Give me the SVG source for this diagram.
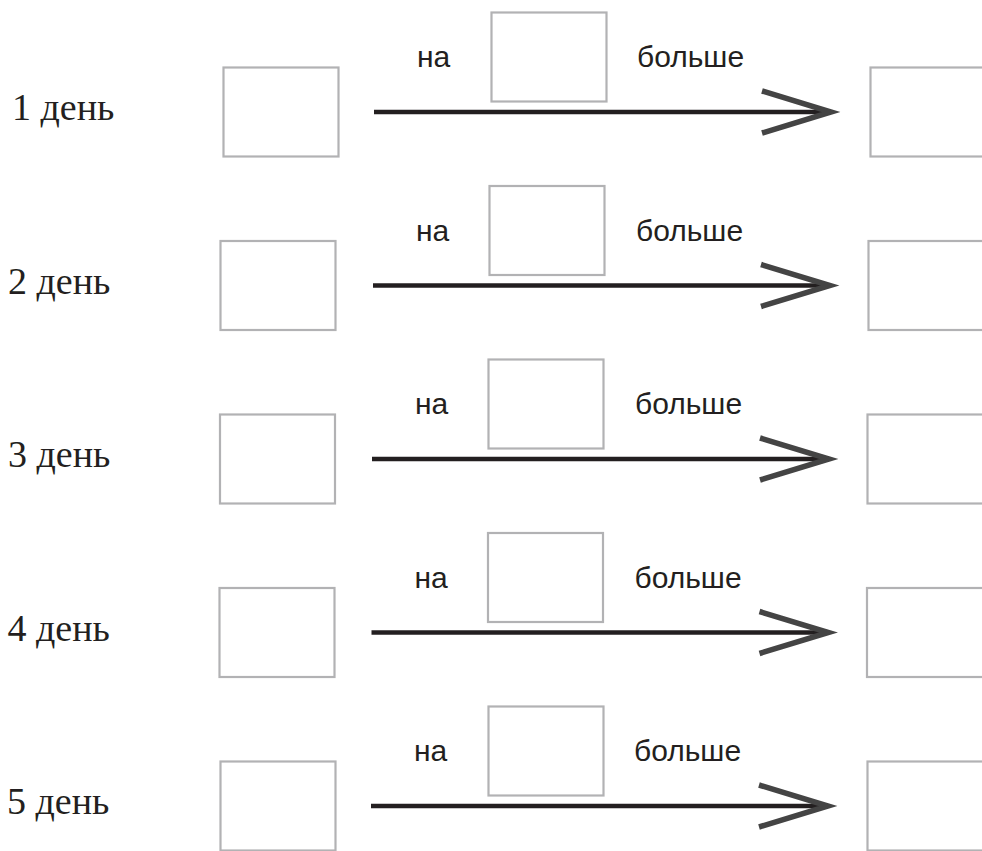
<svg xmlns="http://www.w3.org/2000/svg" width="982" height="851" viewBox="0 0 982 851">
<style>
.box{fill:#fff;stroke:#b2b2b4;stroke-width:2.2}
.day{font-family:"Liberation Serif","Times New Roman",serif;font-size:38px;fill:#231f20}
.lbl{font-family:"Liberation Sans",Arial,sans-serif;font-size:30px;fill:#231f20}
.ln{stroke:#231f20;stroke-width:4.5;fill:none}
.ah{stroke:#444;stroke-width:5.5;fill:none;stroke-linejoin:miter;stroke-miterlimit:10}
</style>
<rect width="982" height="851" fill="#fff"/>
<g id="row1" transform="translate(0,0)">
<g id="day1"><text class="day" x="12" y="120">1 день</text></g>
<g id="from1"><rect class="box" x="223.5" y="67.5" width="115" height="89"/></g>
<g id="by1"><rect class="box" x="491.5" y="12.5" width="115" height="89"/><text class="lbl" x="417" y="67">на</text><text class="lbl" x="637" y="67">больше</text></g>
<g id="to1"><rect class="box" x="870.5" y="67.5" width="125" height="89"/></g>
</g>
<g id="row2" transform="translate(-1,173.5)">
<g id="day2"><text class="day" x="9" y="120">2 день</text></g>
<g id="from2"><rect class="box" x="221.5" y="67.5" width="115" height="89"/></g>
<g id="by2"><rect class="box" x="490.5" y="12.5" width="115" height="89"/><text class="lbl" x="417" y="67">на</text><text class="lbl" x="637" y="67">больше</text></g>
<g id="to2"><rect class="box" x="869.5" y="67.5" width="125" height="89"/></g>
</g>
<g id="row3" transform="translate(-2,347)">
<g id="day3"><text class="day" x="10" y="120">3 день</text></g>
<g id="from3"><rect class="box" x="222" y="67.5" width="115" height="89"/></g>
<g id="by3"><rect class="box" x="490.5" y="12.5" width="115" height="89"/><text class="lbl" x="417" y="67">на</text><text class="lbl" x="637" y="67">больше</text></g>
<g id="to3"><rect class="box" x="869.5" y="67.5" width="125" height="89"/></g>
</g>
<g id="row4" transform="translate(-2.5,520.5)">
<g id="day4"><text class="day" x="10" y="120">4 день</text></g>
<g id="from4"><rect class="box" x="222" y="67.5" width="115" height="89"/></g>
<g id="by4"><rect class="box" x="490.5" y="12.5" width="115" height="89"/><text class="lbl" x="417" y="67">на</text><text class="lbl" x="637" y="67">больше</text></g>
<g id="to4"><rect class="box" x="869.5" y="67.5" width="125" height="89"/></g>
</g>
<g id="row5" transform="translate(-3,694)">
<g id="day5"><text class="day" x="10" y="120">5 день</text></g>
<g id="from5"><rect class="box" x="223.5" y="67.5" width="115" height="89"/></g>
<g id="by5"><rect class="box" x="491.5" y="12.5" width="115" height="89"/><text class="lbl" x="417" y="67">на</text><text class="lbl" x="637" y="67">больше</text></g>
<g id="to5"><rect class="box" x="870.5" y="67.5" width="125" height="89"/></g>
</g>
<g id="connectors">
<g transform="translate(0,0)"><line class="ln" x1="374" y1="112" x2="830" y2="112"/><polyline class="ah" points="762,91 831,112 762,133"/></g>
<g transform="translate(-1,173.5)"><line class="ln" x1="374" y1="112" x2="830" y2="112"/><polyline class="ah" points="762,91 831,112 762,133"/></g>
<g transform="translate(-2,347)"><line class="ln" x1="374" y1="112" x2="830" y2="112"/><polyline class="ah" points="762,91 831,112 762,133"/></g>
<g transform="translate(-2.5,520.5)"><line class="ln" x1="374" y1="112" x2="830" y2="112"/><polyline class="ah" points="762,91 831,112 762,133"/></g>
<g transform="translate(-3,694)"><line class="ln" x1="374" y1="112" x2="830" y2="112"/><polyline class="ah" points="762,91 831,112 762,133"/></g>
</g>
</svg>
